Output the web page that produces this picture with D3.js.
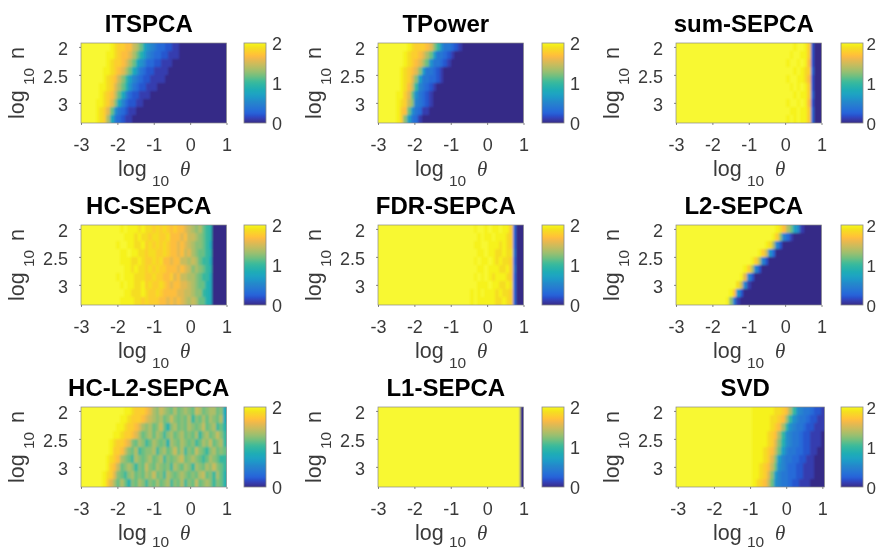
<!DOCTYPE html>
<html><head><meta charset="utf-8">
<script src="https://cdnjs.cloudflare.com/ajax/libs/d3/7.8.5/d3.min.js"></script>
<style>
html,body{margin:0;padding:0;background:#fff}
svg{display:block;filter:blur(0.55px)}
text{font-family:"Liberation Sans",Arial,sans-serif}
</style></head><body>
<script>
// Each character of a row is one cell, looked up in codeValues (0-9 then a-k, 0 .. 2).
// Rows run top to bottom, cells left to right; a short row repeats its last code to the end.
const codeValues = [0,.1,.2,.3,.4,.5,.6,.7,.8,.9,1,1.16,1.25,1.36,1.46,1.56,1.68,1.78,1.87,1.97,2];
const K = n => "k".repeat(n);
const titles = ["ITSPCA","TPower","sum-SEPCA","HC-SEPCA","FDR-SEPCA","L2-SEPCA","HC-L2-SEPCA","L1-SEPCA","SVD"];
const xTicks = [-3,-2,-1,0,1];
const yTicks = [2,2.5,3];
const cbTicks = [0,1,2];
const logNRange = [1.93,3.36];

const itspca = [
 "kkkkkkkkjihhggedb8654332211000","kkkkkkkjjihggfdb9754332211100","kkkkkkkjihhgfdb86533221110","kkkkkkjjihgfdb86432211110",
 "kkkkkkjihgeca754322111100","kkkkkjjihfdb9643221110","kkkkkjihgeb8532211100","kkkkjjihfc85322110",
 "kkkkjihfb6432110","kkkkjihd8432110"];
const tpower = [
 "kkkkkkkkjihhhgfca6443210","kkkkkkkjihhgfdb7443210","kkkkkkkjihgfdb64432100","kkkkkkjihgfc7443210",
 "kkkkkkjihfc74433210","kkkkkkjigea5432100","kkkkkjjhfb6432100","kkkkkjihec543210",
 "kkkkkjhgb6431100","kkkkkjhc743100"];
const sumSepca = [
 K(30)+"kkkjkkjh20",K(30)+"kkjkkjjh20",K(30)+"kjkkjkjg20",K(30)+"kkkjkjih30",K(30)+"kjkkjjig20",
 K(30)+"kkjkjkjh20",K(30)+"kkkjkjjh30",K(30)+"kjkkjkjg20",K(30)+"kkjjkjjh30",K(30)+"kjkjkjjh30"];
const hcSepca = [
 "kkkkkkkkkk kjkjjjijii hihihghggf edcdba9 0","kkkkkkkkkk kkjjjijiih iihhigggfg eedcba9 0",
 "kkkkkkkkkk jkkjjiijhi hihihggfgf edccba8 0","kkkkkkkkkk kjjkjjiihi ihhihggfge fdcbba9 0",
 "kkkkkkkkkk kjjjiijihh ihiggfggee dedbaa8 0","kkkkkkkkkk kkjjijiihi hihhgggfgf ecdcba9 0",
 "kkkkkkkkkk jkjjjiiihh ihhgghfgee ddcbaa8 0","kkkkkkkkkk kjkjjiijhi hhihgfggff edcbb98 0",
 "kkkkkkkkkk kkjjiiijih hihggggffe edcca98 0","kkkkkkkkkk kjjjjiihih hhggfgfgfe dedbb98 0"];
const fdrSepca = [
 K(25)+"kkjkkjkjjkjjh30",K(25)+"kkkjkjjkjjjih30",K(25)+"kkjjkkjjjijih30",K(25)+"kkkjjkjjiijii40",K(25)+"kkjkjjkjijiih30",
 K(25)+"kkkjjkjjjiijh40",K(25)+"kkjkjkjijjjih30",K(25)+"kkkjjjkjjiiji30",K(25)+"kjkjkjjjijiih30",K(25)+"kjkjjjjjiijih30"];
const l2Sepca = [
 K(28)+"jigdb7510",K(27)+"jhc5310",K(25)+"jid520",K(23)+"jhe630",K(21)+"jhd520",
 K(19)+"jhd520",K(18)+"jf520",K(17)+"ie510",K(15)+"jg620",K(14)+"jc410"];
const hcL2Sepca = [
 "kkkkkkkkkk kkjjihhhgf dcedcbdbcd cbedbcddbc 8","kkkkkkkkkk kjjihhhgfe dcdbcecbcb dacbdbdcbd 8",
 "kkkkkkkkkk jjihhgfdcd bceb9cdbcb dcbcebcdab 9","kkkkkkkkkj jihhgfdbcd bdcacdbcdb cbdacdbcec a",
 "kkkkkkkkji hhgfcbdcab dcbc9dcbdc bcabdcebcd a","kkkkkkkkjh hgecbdabcc dacdbcebda cbecbacdbc b",
 "kkkkkkkjih gdcbadcbcd bcdacbcdeb cdcbabdcba a","kkkkkkkjhg ebcdcacbec bdcbcadcbd cadcbdcecb a",
 "kkkkkkjihf cbacdbcbdc ebcadcbcdc bcbdebcadb 9","kkkkkkjhfd bdb9cbdcac bdbcdacbda cbebcdcacb 9"];
const l1Sepca = d3.range(10).map(() => K(40)+"0");
const svd = [
 K(21)+"jjjjjjiihgda65443221",K(21)+"jjjjjiihgda654432211",K(21)+"jjjjjihgda6544322111",K(21)+"jjjjihgda65443221110",
 K(21)+"jjjjihfc965443221110",K(21)+"jjjihgeb754433221100",K(21)+"jjjihfc7544332211000",K(21)+"jjihgeb6543322111000",
 K(21)+"jjihfc75443322111000",K(21)+"jihgeb65443221110000"];
const panels = [itspca,tpower,sumSepca,hcSepca,fdrSepca,l2Sepca,hcL2Sepca,l1Sepca,svd];
const xDomains = [[-3,1],[-3,1],[-3,1],[-3,1],[-3,1],[-3,1],[-3,1],[-3,1],[-3.05,1.06]];
const gridSpan = [149,149,145.5,145.5,145.5,145.5,145.5,145.5,148.5];

const parula = [[53,42,135],[54,48,147],[54,55,160],[53,61,173],[50,67,186],[46,74,197],[40,83,205],[40,92,212],[40,99,216],[38,104,216],
 [38,109,215],[38,113,214],[38,117,212],[38,121,210],[38,125,208],[38,129,206],[36,133,204],[35,137,203],[34,142,202],[32,147,202],
 [30,152,200],[30,156,198],[30,160,196],[30,164,193],[30,167,190],[30,169,186],[30,172,182],[34,174,178],[38,177,173],[42,179,169],
 [46,181,165],[52,183,161],[58,185,156],[66,187,152],[77,188,146],[89,189,140],[101,190,134],[113,191,128],[124,191,123],[135,191,119],
 [146,191,115],[156,191,111],[165,190,107],[174,190,103],[183,189,100],[192,188,96],[200,188,93],[209,187,89],[217,186,86],[225,185,82],
 [233,185,78],[241,185,74],[248,187,68],[253,190,61],[255,195,55],[254,200,50],[252,206,46],[250,211,42],[247,216,38],[245,222,33],
 [245,228,29],[245,235,27],[246,242,30],[248,248,50]];
const colorScale = d3.scaleLinear().domain(parula.map((d,i)=>2*i/(parula.length-1))).range(parula.map(d=>d3.rgb(...d)));

const colLeft = [81,378,676], colWidth = 145.5, rowTop = [43,225,407], plotH = 80;
const cbLeft = [244,542,841], cbWidth = 22;
const decode = r => { const s = r.replace(/ /g,""); return s.padEnd(41,s[s.length-1]).slice(0,41).split("").map(c=>codeValues[parseInt(c,21)]); };

const svg = d3.select("body").append("svg").attr("width",877).attr("height",550);
const defs = svg.append("defs");
defs.append("filter").attr("id","soft").attr("x","-5%").attr("y","-5%").attr("width","110%").attr("height","110%")
  .append("feGaussianBlur").attr("stdDeviation","0.8 1.2");
const grad = defs.append("linearGradient").attr("id","cbGrad").attr("x1",0).attr("y1",1).attr("x2",0).attr("y2",0);
parula.forEach((d,i)=>grad.append("stop").attr("offset",i/(parula.length-1)).attr("stop-color",d3.rgb(...d).formatHex()));

panels.forEach((rows,p)=>{
  const c = p%3, r = Math.floor(p/3);
  const L = colLeft[c], T = rowTop[r], W = p===8 ? 148.5 : colWidth, R = L+W, B = T+plotH;
  const g = svg.append("g");
  const grid = rows.map(decode);
  const xBand = d3.scaleBand().domain(d3.range(41)).range([L,L+gridSpan[p]]);
  const yBand = d3.scaleBand().domain(d3.range(10)).range([T,B]);
  const x = d3.scaleLinear().domain(xDomains[p]).range([L,R]);
  const y = d3.scaleLinear().domain(logNRange).range([T,B]);
  const pad = 6;
  defs.append("clipPath").attr("id","clip"+p).append("rect").attr("x",L).attr("y",T).attr("width",W).attr("height",plotH);
  const cells = [];
  grid.forEach((vals,j)=>vals.forEach((v,i)=>cells.push({i,j,v})));
  g.append("g").attr("clip-path",`url(#clip${p})`).append("g").attr("filter","url(#soft)")
    .selectAll("rect").data(cells).join("rect")
    .attr("shape-rendering","crispEdges")
    .attr("x",d=>xBand(d.i)-(d.i===0?pad:0))
    .attr("y",d=>yBand(d.j)-(d.j===0?pad:0))
    .attr("width",d=>xBand.bandwidth()+((d.i===0||d.i===40)?pad:0)+1)
    .attr("height",d=>yBand.bandwidth()+((d.j===0||d.j===9)?pad:0)+1)
    .attr("fill",d=>colorScale(d.v));
  g.append("rect").attr("x",L).attr("y",T).attr("width",W).attr("height",plotH)
    .attr("fill","none").attr("stroke","#8a8a8a").attr("stroke-width",0.7);

  const xAxis = d3.axisBottom(x).tickValues(xTicks).tickFormat(d=>String(d)).tickSize(2).tickPadding(13);
  const yAxis = d3.axisLeft(y).tickValues(yTicks).tickFormat(d=>String(d)).tickSize(2).tickPadding(11);
  const ax = g.append("g").attr("transform",`translate(0,${B})`).call(xAxis);
  const ay = g.append("g").attr("transform",`translate(${L},0)`).call(yAxis);
  [ax,ay].forEach(a=>{
    a.select(".domain").remove();
    a.selectAll(".tick line").attr("stroke","#555").attr("stroke-width",0.7);
    a.selectAll("text").attr("fill","#3a3a3a").style("font-size","18px");
  });
  ay.selectAll("text").attr("dy","0.42em");

  // title
  g.append("text").attr("x",L+W/2-5).attr("y",T-11).attr("text-anchor","middle")
    .attr("fill","#000").style("font-size","24px").style("font-weight","bold").text(titles[p]);

  // x label
  const lab = (txt,px,py,size)=>g.append("text").attr("x",px).attr("y",py).attr("fill","#3a3a3a").style("font-size",size+"px").text(txt);
  lab("log",L+37,B+52.5,21.5);
  lab("10",L+71,r===2?546.5:B+62.5,15.5);
  lab("θ",L+99,B+52.5,21).style("font-family","'Liberation Serif',serif").style("font-style","italic");

  // y label
  const yl = g.append("g").attr("transform",`translate(${L-57},${T+76}) rotate(-90)`);
  yl.append("text").attr("fill","#3a3a3a").style("font-size","21.5px").text("log");
  yl.append("text").attr("x",34).attr("y",10).attr("fill","#3a3a3a").style("font-size","15.5px").text("10");
  yl.append("text").attr("x",60).attr("fill","#3a3a3a").style("font-size","21.5px").text("n");

  // colorbar
  const cbL = cbLeft[c];
  const cbY = d3.scaleLinear().domain([0,2]).range([B,T]);
  g.append("rect").attr("x",cbL).attr("y",cbY(2)).attr("width",cbWidth).attr("height",cbY(0)-cbY(2))
    .attr("fill","url(#cbGrad)").attr("stroke","#8a8a8a").attr("stroke-width",0.8);
  const cb = g.append("g").attr("transform",`translate(${cbL+cbWidth},0)`)
    .call(d3.axisRight(cbY).tickValues(cbTicks).tickFormat(d=>String(d)).tickSize(0).tickPadding(c===2?3.5:6));
  cb.select(".domain").remove();
  cb.selectAll("text").attr("fill","#3a3a3a").style("font-size",c===2?"17px":"18px").attr("dy","0.38em");
});
</script>
</body></html>
